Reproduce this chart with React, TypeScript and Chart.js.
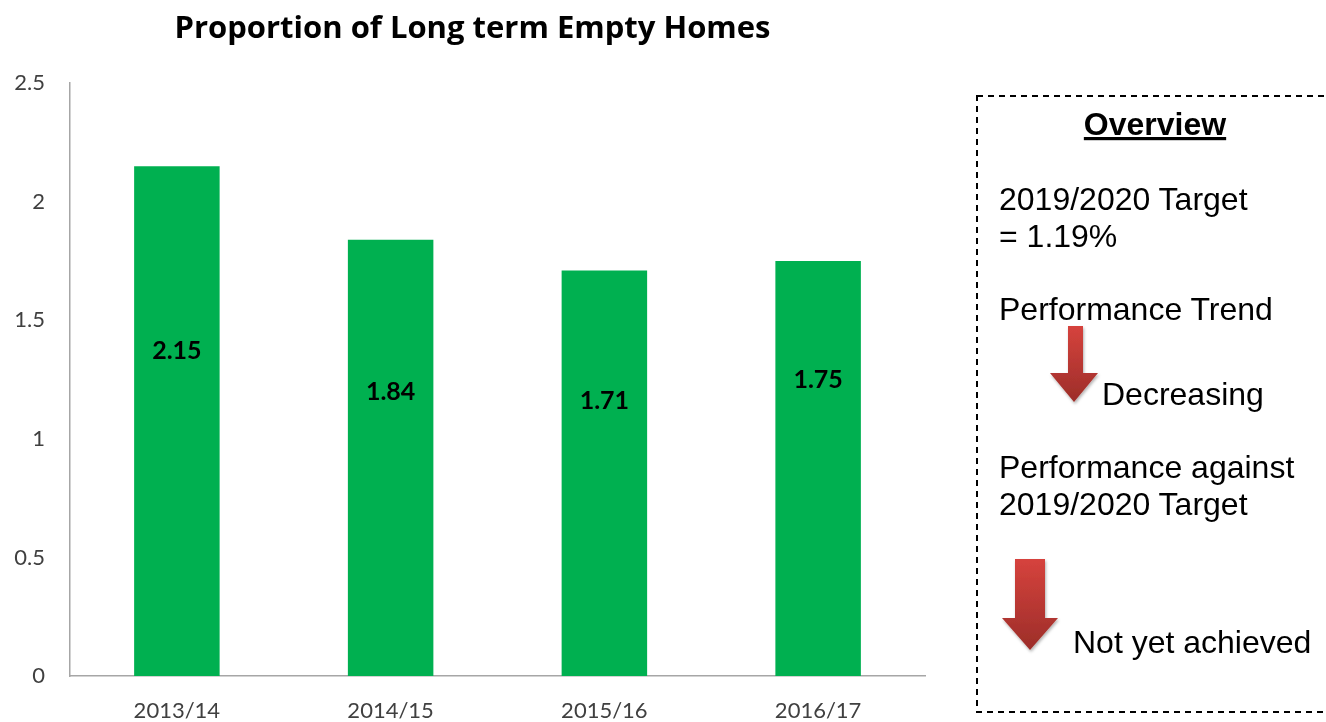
import React, { useEffect, useRef } from "react";
import { Chart, registerables } from "chart.js";

Chart.register(...registerables);

const categories = ["2013/14", "2014/15", "2015/16", "2016/17"];
const values = [2.15, 1.84, 1.71, 1.75];
// vertical placement of each value label, in data units
const labelAnchors = [1.37, 1.2, 1.16, 1.25];
const yTicks = [0, 0.5, 1, 1.5, 2, 2.5];
const title = "Proportion of Long term Empty Homes";

const FONT = "Lato, 'Open Sans', sans-serif";
const TITLE_FONT = "'Open Sans', Lato, sans-serif";

const labelPlugin = {
  id: "barLabels",
  afterDatasetsDraw(chart: any) {
    const { ctx } = chart;
    const meta = chart.getDatasetMeta(0);
    const yScale = chart.scales.y;
    ctx.save();
    ctx.font = `bold 25px ${FONT}`;
    ctx.fillStyle = "#000000";
    ctx.textAlign = "center";
    ctx.textBaseline = "middle";
    meta.data.forEach((bar: any, i: number) => {
      const y = yScale.getPixelForValue(labelAnchors[i]);
      ctx.fillText(values[i].toFixed(2), bar.x, y);
    });
    ctx.restore();
  },
};

export default function App() {
  const ref = useRef<HTMLCanvasElement | null>(null);

  useEffect(() => {
    if (!ref.current) return;
    const chart = new Chart(ref.current, {
      type: "bar",
      data: {
        labels: categories,
        datasets: [
          {
            data: values,
            backgroundColor: "#00B050",
            borderWidth: 0,
            barPercentage: 0.4,
            categoryPercentage: 1,
          },
        ],
      },
      options: {
        responsive: false,
        animation: false,
        layout: { padding: { left: 20, right: 401, top: 0, bottom: 0 } },
        plugins: {
          legend: { display: false },
          tooltip: { enabled: false },
          title: {
            display: true,
            text: title,
            color: "#000000",
            font: { family: TITLE_FONT, size: 31, weight: "bold" },
            padding: { top: 11, bottom: 35 },
          },
        },
        scales: {
          x: {
            grid: { display: false, drawTicks: false },
            border: { color: "#a6a6a6", width: 1.5 },
            ticks: {
              color: "#404040",
              font: { family: FONT, size: 22 },
              padding: 22,
              maxRotation: 0,
            },
            afterFit: (s: any) => {
              s.height = 46;
            },
          },
          y: {
            min: 0,
            max: 2.5,
            grid: { display: false, drawTicks: false },
            border: { color: "#a6a6a6", width: 1.5 },
            afterBuildTicks: (s: any) => {
              s.ticks = yTicks.map((v) => ({ value: v }));
            },
            ticks: {
              color: "#404040",
              font: { family: FONT, size: 22 },
              padding: 25,
              callback: (v: any) => String(v),
            },
            afterFit: (s: any) => {
              s.width = 50;
              // let the tick labels extend into the left padding without clipping
              s._computeLabelArea = () => undefined;
            },
          },
        },
      },
      plugins: [labelPlugin],
    });
    return () => chart.destroy();
  }, []);

  const sans = "'Liberation Sans', Arial, sans-serif";

  return (
    <div style={{ position: "fixed", left: 0, top: 0, width: 1326, height: 722, background: "#fff" }}>
      <canvas ref={ref} width={1326} height={722} style={{ display: "block", width: 1326, height: 722 }} />
      <svg
        width={1326}
        height={722}
        style={{ position: "absolute", left: 0, top: 0, pointerEvents: "none" }}
      >
        <defs>
          <linearGradient id="arrowGrad" x1="0" y1="0" x2="0" y2="1">
            <stop offset="0" stopColor="#d6433d" />
            <stop offset="1" stopColor="#9c2d29" />
          </linearGradient>
          <filter id="shadow" x="-30%" y="-30%" width="160%" height="160%">
            <feDropShadow dx="1" dy="2" stdDeviation="1.5" floodColor="#000" floodOpacity="0.3" />
          </filter>
        </defs>
        <rect
          x={977}
          y={96}
          width={360}
          height={616}
          fill="none"
          stroke="#000"
          strokeWidth={2}
          strokeDasharray="6 5"
        />
        <text
          x={1155}
          y={135}
          textAnchor="middle"
          fontFamily={sans}
          fontWeight="bold"
          fontSize={32}
          textDecoration="underline"
          fill="#000"
        >
          Overview
        </text>
        <g fontFamily={sans} fontSize={32} fill="#000">
          <text x={999} y={210}>2019/2020 Target</text>
          <text x={999} y={247}>= 1.19%</text>
          <text x={999} y={320}>Performance Trend</text>
          <text x={1102} y={405}>Decreasing</text>
          <text x={999} y={478}>Performance against</text>
          <text x={999} y={515}>2019/2020 Target</text>
          <text x={1073} y={653}>Not yet achieved</text>
        </g>
        <polygon
          points="1068,326 1083,326 1083,373 1098,373 1074,402 1050,373 1068,373"
          fill="url(#arrowGrad)"
          filter="url(#shadow)"
        />
        <polygon
          points="1015,559 1045,559 1045,618 1058,618 1030,650 1002,618 1015,618"
          fill="url(#arrowGrad)"
          filter="url(#shadow)"
        />
      </svg>
    </div>
  );
}
